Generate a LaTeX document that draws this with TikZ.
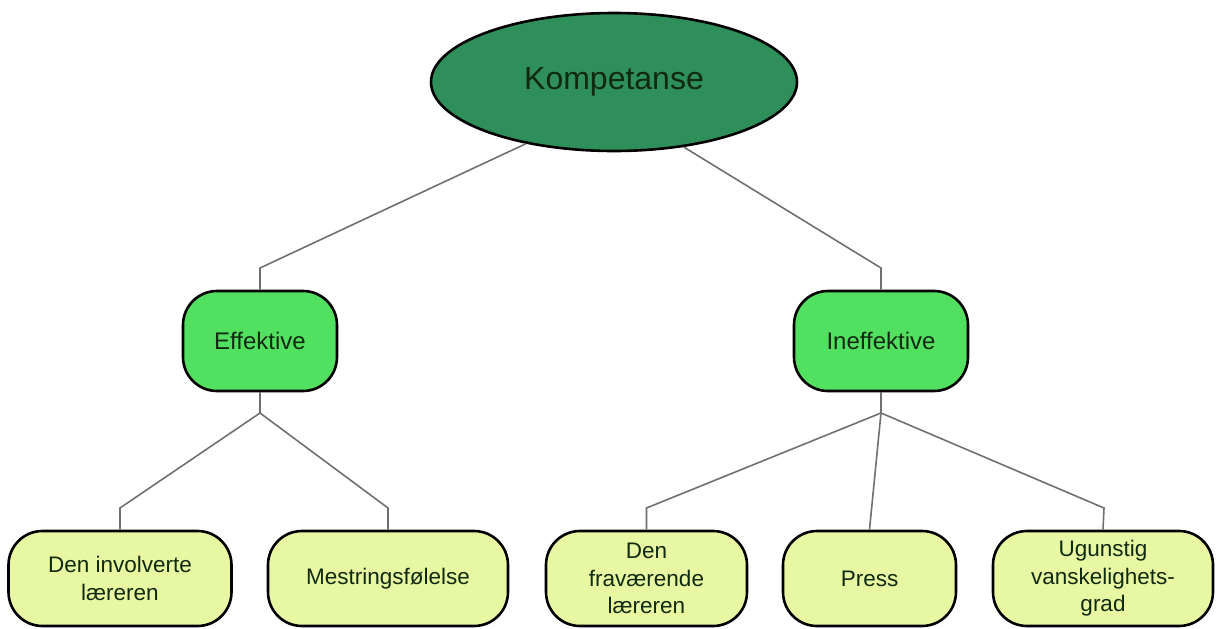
\documentclass[tikz,border=0pt]{standalone}
\usepackage{fontspec}
\setmainfont{Liberation Sans}
\usetikzlibrary{shapes.geometric}
\definecolor{rootfill}{HTML}{2E8F5A}
\definecolor{midfill}{HTML}{52E060}
\definecolor{leaffill}{HTML}{E8F7A2}
\definecolor{inkgreen}{HTML}{102A10}
\definecolor{wire}{HTML}{707070}
\begin{document}
\begin{tikzpicture}[x=1pt,y=-1pt,
  rootnode/.style={ellipse,draw=black,line width=2.6pt,fill=rootfill,
    minimum width=366pt,minimum height=138pt,inner sep=0pt,
    text=inkgreen,font=\fontsize{32}{36}\selectfont},
  midnode/.style={rectangle,rounded corners=34pt,draw=black,line width=2.6pt,
    fill=midfill,minimum height=100pt,inner sep=0pt,
    text=inkgreen,font=\fontsize{24}{28}\selectfont},
  leafnode/.style={rectangle,rounded corners=34pt,draw=black,line width=2.6pt,
    fill=leaffill,minimum height=95pt,inner sep=0pt,align=center,
    text=inkgreen,font=\fontsize{22.5}{27.5}\selectfont},
  wireline/.style={draw=wire,line width=1.6pt}]
\useasboundingbox (0,0) rectangle (1216,629);

% root
\node[rootnode] (kom) at (614,82) {Kompetanse};

% second level
\node[midnode,minimum width=154pt] (eff) at (260,341) {Effektive};
\node[midnode,minimum width=174pt] (ineff) at (881,341) {Ineffektive};

% leaves
\node[leafnode,minimum width=223pt] (l1) at (120,578.5) {Den involverte\\læreren};
\node[leafnode,minimum width=240pt] (l2) at (388,578.5) {Mestringsfølelse};
\node[leafnode,minimum width=201pt] (l3) at (646.5,578.5) {Den\\fraværende\\læreren};
\node[leafnode,minimum width=173pt] (l4) at (869.5,578.5) {Press};
\node[leafnode,minimum width=220pt] (l5) at (1103,578.5) {Ugunstig\\vanskelighets-\\grad};

% bends and junctions
\coordinate (bEff) at (260,268);
\coordinate (bIneff) at (881,268);
\coordinate (jEff) at (260,413);
\coordinate (jIneff) at (881,413);
\coordinate (b1) at (120,508);
\coordinate (b2) at (388,508);
\coordinate (b3) at (646.5,508);
\coordinate (b5) at (1104,508);

% connectors
\draw[wireline] (kom.215) -- (bEff) -- (eff.north);
\draw[wireline] (kom.317) -- (bIneff) -- (ineff.north);
\draw[wireline] (eff.south) -- (jEff);
\draw[wireline] (jEff) -- (b1) -- (l1.north);
\draw[wireline] (jEff) -- (b2) -- (l2.north);
\draw[wireline] (ineff.south) -- (jIneff);
\draw[wireline] (jIneff) -- (b3) -- (l3.north);
\draw[wireline] (jIneff) -- (l4.north);
\draw[wireline] (jIneff) -- (b5) -- (l5.north);
\end{tikzpicture}
\end{document}
